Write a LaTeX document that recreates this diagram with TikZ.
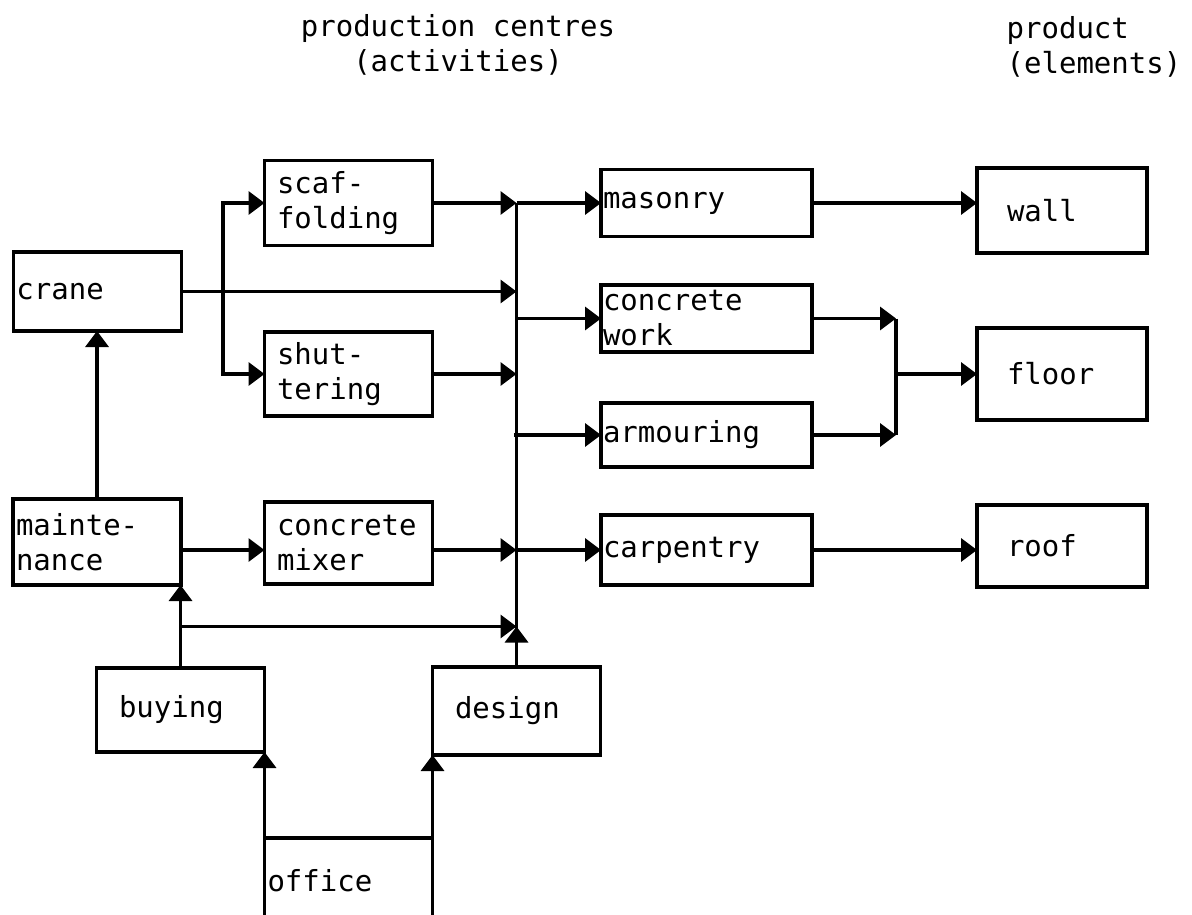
\documentclass[tikz,border=0pt]{standalone}
\usepackage{fontspec}
\usepackage{tikz}
\usetikzlibrary{arrows.meta,calc}
\newfontfamily\typewriter{DejaVu Sans Mono}
\newcommand{\boxfont}{\typewriter\fontsize{16.5}{19.9}\selectfont}

\tikzset{
  box/.style={draw, align=left, inner ysep=0pt, outer sep=0pt, font=\boxfont},
  side/.style={box, text width=3.24cm, inner xsep=0.06cm, minimum height=1.68cm},
  act/.style={box, text width=2.86cm, inner xsep=0.25cm, minimum height=1.68cm},
  staff/.style={box, text width=2.46cm, inner xsep=0.45cm, minimum height=1.72cm},
  work/.style={box, text width=4.14cm, inner xsep=0.04cm, minimum height=1.34cm},
  elem/.style={box, text width=2.2cm, inner xsep=0.6cm, minimum height=1.7cm},
  heading/.style={font=\boxfont, inner sep=0pt},
}

\begin{document}
\begin{tikzpicture}[line width=1.9pt, >={Triangle[length=0.32cm,width=0.46cm]}]
    \useasboundingbox (0,0) rectangle (23.84,-18.3);
    \clip (0,0) rectangle (23.84,-18.3);

    % Headings
    \node[heading, align=center, anchor=north] (centres) at (9.16,-0.26) {production centres\\(activities)};
    \node[heading, align=left, anchor=north west] (elements) at (20.1,-0.3) {product\\(elements)};

    % Nodes
    \node[side, minimum height=1.58cm] (crane) at (1.95,-5.83) {crane};
    \node[side, minimum height=1.72cm] (maint) at (1.94,-10.84) {mainte-\\nance};
    \node[staff, minimum height=1.68cm] (buy) at (3.61,-14.2) {buying};

    \node[act, minimum height=1.7cm] (scaf) at (6.97,-4.06) {scaf-\\folding};
    \node[act] (shut) at (6.97,-7.48) {shut-\\tering};
    \node[act, minimum height=1.64cm] (mixer) at (6.97,-10.86) {concrete\\mixer};
    \node[side, minimum height=1.72cm] (office) at (6.97,-17.62) {office};
    \node[staff, minimum height=1.76cm] (design) at (10.33,-14.22) {design};

    \node[work] (mason) at (14.13,-4.06) {masonry};
    \node[work] (concr) at (14.13,-6.37) {concrete\\work};
    \node[work, minimum height=1.28cm] (armour) at (14.13,-8.7) {armouring};
    \node[work, minimum height=1.4cm] (carp) at (14.13,-11.0) {carpentry};

    \node[elem] (wall) at (21.24,-4.21) {wall};
    \node[elem, minimum height=1.84cm] (floor) at (21.24,-7.48) {floor};
    \node[elem, minimum height=1.64cm] (roof) at (21.24,-10.92) {roof};

    % Branch points
    \coordinate (split) at ($(crane.east)!0.5!(scaf.west |- crane.east)$);
    \coordinate (tap) at ($(buy.north)!0.5!(buy.north |- maint.south)$);
    \coordinate (join) at (17.92,-7.48);

    % Arrows
    \draw[->] (crane.east) -- (crane.east -| design.north);
    \draw[->] (split) |- (scaf.west);
    \draw[->] (split) |- (shut.west);
    \draw[->] (maint.north) -- (maint.north |- crane.south);
    \draw[->] (maint.east |- carp.west) -- (mixer.west |- carp.west);
    \draw[->] (buy.north) -- (buy.north |- maint.south);
    \draw[->] (tap) -- (tap -| design.north);
    \draw[->] (office.north west) -- (office.north west |- buy.south);
    \draw[->] (office.north east) -- (office.north east |- design.south);

    \draw[->] (scaf.east) -- (scaf.east -| design.north);
    \draw[->] (shut.east) -- (shut.east -| design.north);
    \draw[->] (mixer.east |- carp.west) -- (design.north |- carp.west);
    \draw (design.north) -- (design.north |- mason.west);
    \draw[->] (design.north) -- (tap -| design.north);

    \draw[->] (design.north |- mason.west) -- (mason.west);
    \draw[->] (design.north |- concr.west) -- (concr.west);
    \draw[->] ([xshift=-1.5pt]design.north |- armour.west) -- (armour.west);
    \draw[->] (design.north |- carp.west) -- (carp.west);

    \draw[->] (mason.east) -- (mason.east -| wall.west);
    \draw[->] (concr.east) -- (concr.east -| join);
    \draw[->] (armour.east) -- (armour.east -| join);
    \draw (concr.east -| join) -- (armour.east -| join);
    \draw[->] (join) -- (floor.west);
    \draw[->] (carp.east) -- (carp.east -| roof.west);
\end{tikzpicture}
\end{document}
